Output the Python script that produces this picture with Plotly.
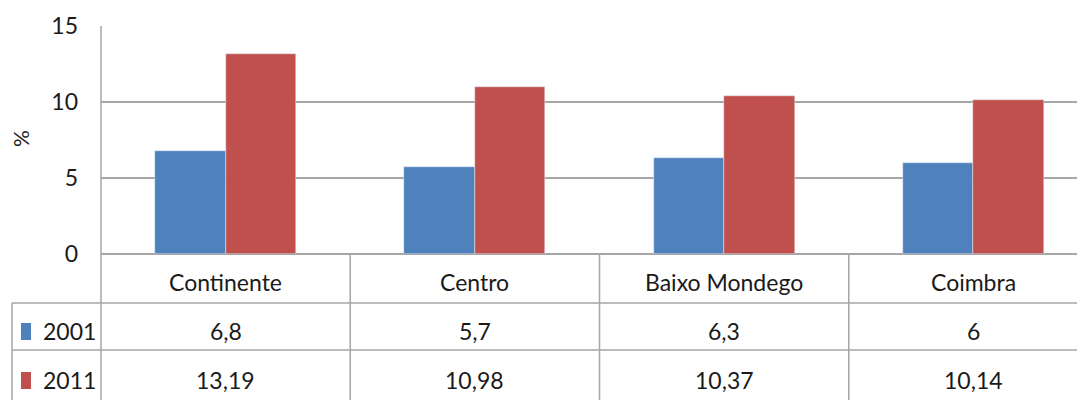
import plotly.graph_objects as go

categories = ["Continente", "Centro", "Baixo Mondego", "Coimbra"]
series_names = ["2001", "2011"]
values_2001 = [6.8, 5.7, 6.3, 6.0]
values_2011 = [13.19, 10.98, 10.37, 10.14]
labels_2001 = ["6,8", "5,7", "6,3", "6"]
labels_2011 = ["13,19", "10,98", "10,37", "10,14"]
y_ticks = [0, 5, 10, 15]

colors = ["#4F81BD", "#C0504D"]
FONT = "Lato"
FS = 23
TXT = "#1a1a1a"
GRID = "#a6a6a6"

OFF = 8  # page body margin
W, H = 1085 - OFF, 400 - OFF
PL, PT, PB = 101, 26, 254  # plot edges in screenshot pixels
L, T = PL - OFF, PT - OFF
B = H - (PB - OFF)
pw = W - L
ph = PB - PT

def px_x(p):
    return (p - PL) / pw

def px_y(p):
    return (PB - p) / ph

xs = list(range(len(categories)))
bw = 0.283

fig = go.Figure()
fig.add_trace(go.Bar(x=xs, y=values_2001, name=series_names[0], marker_color=colors[0],
                     width=bw, offset=-bw, showlegend=False))
fig.add_trace(go.Bar(x=xs, y=values_2011, name=series_names[1], marker_color=colors[1],
                     width=bw, offset=0, showlegend=False))

shapes = []
line = dict(color=GRID, width=1.5)
shapes.append(dict(type="line", xref="paper", yref="paper", x0=0, x1=0, y0=1, y1=px_y(402), line=line))
for b in [0.5, 1.5, 2.5]:
    shapes.append(dict(type="line", xref="x", yref="paper", x0=b, x1=b, y0=0, y1=px_y(402), line=line))
for yy in [303, 350]:
    shapes.append(dict(type="line", xref="paper", yref="paper", x0=px_x(12), x1=1, y0=px_y(yy), y1=px_y(yy), line=line))
shapes.append(dict(type="line", xref="paper", yref="paper", x0=px_x(12), x1=px_x(12), y0=px_y(303), y1=px_y(402), line=line))
for (y0, y1), c in zip([(323, 340), (372, 389)], colors):
    shapes.append(dict(type="rect", xref="paper", yref="paper", x0=px_x(21), x1=px_x(31),
                       y0=px_y(y1), y1=px_y(y0), fillcolor=c, line=dict(width=0)))

ann = []
font = dict(family=FONT, size=FS, color=TXT)
common = dict(showarrow=False, yanchor="middle")
for i, c in enumerate(categories):
    ann.append(dict(x=i, y=px_y(282), xref="x", yref="paper", text=c, xanchor="center", font=font, **common))
    ann.append(dict(x=i, y=px_y(331), xref="x", yref="paper", text=labels_2001[i], xanchor="center", font=font, **common))
    ann.append(dict(x=i, y=px_y(380), xref="x", yref="paper", text=labels_2011[i], xanchor="center", font=font, **common))
for name, yy in zip(series_names, [331, 380]):
    ann.append(dict(x=px_x(41), y=px_y(yy), xref="paper", yref="paper", text=name, xanchor="left", font=font, **common))
ann.append(dict(x=px_x(20), y=px_y(139), xref="paper", yref="paper", text="%", textangle=-90,
                xanchor="center", font=dict(family=FONT, size=21, color=TXT), **common))

fig.update_layout(
    width=W, height=H,
    margin=dict(l=L, r=0, t=T, b=B, pad=0),
    paper_bgcolor="white", plot_bgcolor="white",
    bargap=0, barmode="overlay",
    shapes=shapes, annotations=ann,
    font=dict(family=FONT, size=FS, color=TXT),
    xaxis=dict(range=[-0.5, 3.5 - 13 / 249], showticklabels=False, showgrid=False, zeroline=False,
               showline=False, ticks=""),
    yaxis=dict(range=[0, 15], tickvals=y_ticks, ticktext=[str(v) for v in y_ticks],
               showgrid=True, gridcolor=GRID, gridwidth=1.5, zeroline=True, zerolinecolor=GRID,
               zerolinewidth=1.5, showline=False, ticks="", ticklabelstandoff=22,
               tickfont=dict(family=FONT, size=FS, color=TXT)),
)

fig.write_html("out.html")
